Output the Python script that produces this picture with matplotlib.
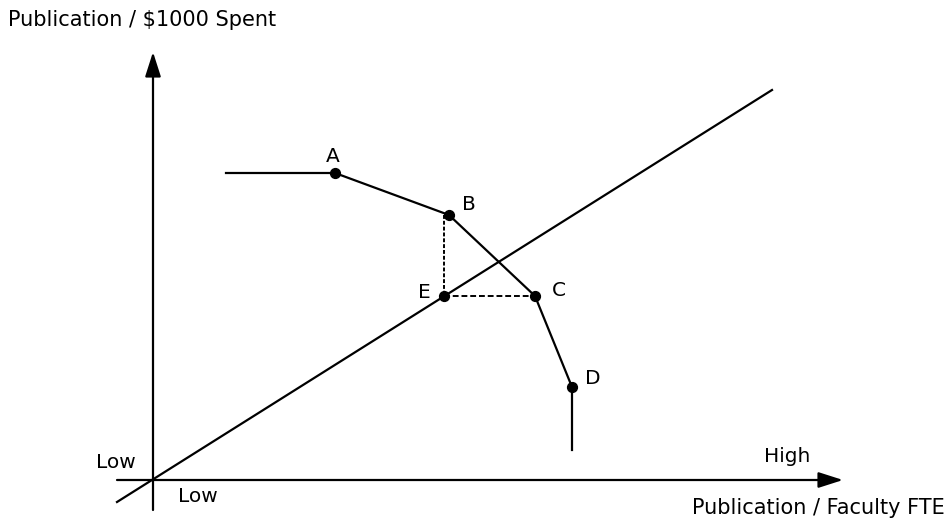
import numpy as np
import matplotlib.pyplot as plt

# frontier A-B-C-D (with the flat lead-in and the drop below D)
frontier_x = [73, 182, 296, 382, 419, 419]
frontier_y = [307, 307, 265, 184, 93, 30]

# the named points
pt_names = ["A", "B", "C", "D", "E"]
pt_x = [182, 296, 382, 419, 291]
pt_y = [307, 265, 184, 93, 184]

# projection of B onto the ray: down to E, across to C
proj_x = [291, 291, 382]
proj_y = [265, 184, 184]

# ray through the origin
ray_x = [-36, 619]
ray_y = [-22, 390]

font = "DejaVu Sans"
fs = 14.5

fig = plt.figure(figsize=(9.49, 5.2), dpi=100)
ax = fig.add_axes([0, 0, 1, 1])
ax.set_xlim(-153, 796)
ax.set_ylim(-40, 480)
ax.axis("off")

# axes with arrows
arr = dict(arrowstyle="-|>,head_length=0.75,head_width=0.24", mutation_scale=20,
           lw=1.6, color="black", shrinkA=0, shrinkB=0)
ax.annotate("", xy=(0, 428), xytext=(0, -30), arrowprops=arr)
ax.annotate("", xy=(690, 0), xytext=(-36, 0), arrowprops=arr)

ax.plot(ray_x, ray_y, color="black", lw=1.6)
ax.plot(frontier_x, frontier_y, color="black", lw=1.6)
ax.plot(proj_x[:2], proj_y[:2], color="black", lw=1.4, ls=(0, (2, 1)))
ax.plot(proj_x[1:], proj_y[1:], color="black", lw=1.4, ls=(0, (3, 1.5)))
ax.scatter(pt_x, pt_y, s=50, color="black", zorder=3)

# point labels
offs = {"A": (-2, 16), "B": (20, 10), "C": (24, 6), "D": (21, 9), "E": (-20, 3)}
for n, x, y in zip(pt_names, pt_x, pt_y):
    dx, dy = offs[n]
    ax.text(x + dx, y + dy, n, ha="center", va="center", fontsize=fs, family=font)

ax.text(-37, 18, "Low", ha="center", va="center", fontsize=fs, family=font)
ax.text(45, -17, "Low", ha="center", va="center", fontsize=fs, family=font)
ax.text(634, 23, "High", ha="center", va="center", fontsize=fs, family=font)
ax.text(792, -28, "Publication / Faculty FTE", ha="right", va="center", fontsize=15, family=font)
ax.text(-145, 460, "Publication / $1000 Spent", ha="left", va="center", fontsize=15, family=font)

fig.savefig("out.png", dpi=100)
